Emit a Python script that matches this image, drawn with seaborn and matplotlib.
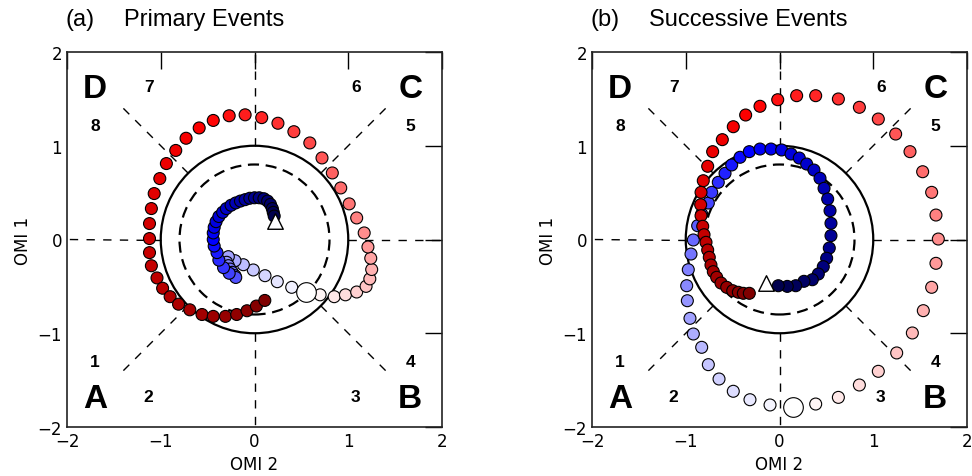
import numpy as np
import pandas as pd
import seaborn as sns
import matplotlib.pyplot as plt
from matplotlib.patches import Circle

# ---------------- data ----------------
# Panel (a) Primary Events
start_a = (0.546, -0.557)
end_a = (0.219, 0.197)
blue_ax = [0.397, 0.243, 0.112, -0.013, -0.119, -0.208, -0.279,
           -0.297, -0.279, -0.261, -0.237, -0.208, -0.20,
           -0.27, -0.33, -0.38,
           -0.40, -0.43, -0.44, -0.44, -0.43, -0.41, -0.38, -0.34, -0.30, -0.25,
           -0.20, -0.15, -0.10, -0.05, 0.00, 0.05, 0.10, 0.14, 0.17, 0.19, 0.20, 0.21]
blue_ay = [-0.510, -0.450, -0.386, -0.325, -0.269, -0.226, -0.183,
           -0.243, -0.279, -0.315, -0.350, -0.386, -0.405,
           -0.36, -0.30, -0.22,
           -0.14, -0.07, 0.00, 0.07, 0.13, 0.19, 0.245, 0.29, 0.33, 0.365,
           0.39, 0.41, 0.425, 0.44, 0.445, 0.445, 0.435, 0.41, 0.375, 0.33, 0.29, 0.25]
red_ax = [0.70, 0.85, 0.97, 1.09, 1.19, 1.23, 1.25, 1.24, 1.21, 1.17, 1.09, 1.01,
          0.92, 0.83, 0.72, 0.59, 0.42, 0.25, 0.077, -0.10, -0.27, -0.44, -0.59,
          -0.73, -0.84, -0.94, -1.01, -1.07, -1.10, -1.12, -1.12, -1.12, -1.10,
          -1.04, -0.98, -0.90, -0.81, -0.69, -0.56, -0.44, -0.31, -0.19, -0.08,
          0.02, 0.11]
red_ay = [-0.59, -0.61, -0.59, -0.56, -0.50, -0.42, -0.32, -0.20, -0.08, 0.07, 0.23, 0.38,
          0.55, 0.71, 0.87, 1.03, 1.15, 1.24, 1.30, 1.33, 1.32, 1.27, 1.19,
          1.08, 0.95, 0.81, 0.65, 0.49, 0.33, 0.17, 0.01, -0.14, -0.28,
          -0.41, -0.52, -0.61, -0.69, -0.75, -0.80, -0.82, -0.82, -0.80, -0.76,
          -0.71, -0.65]

# Panel (b) Successive Events
start_b = (0.147, -1.79)
end_b = (-0.144, -0.464)
blue_bx = [-0.101, -0.315, -0.493, -0.645, -0.759, -0.830, -0.919, -0.955, -0.983,
           -0.990, -0.973, -0.944, -0.919, -0.873, -0.830, -0.759, -0.723, -0.653,
           -0.581, -0.510, -0.421, -0.322, -0.208, -0.091, 0.023, 0.123, 0.211,
           0.290, 0.368, 0.432, 0.475, 0.514, 0.539, 0.549, 0.549, 0.531, 0.503,
           0.467, 0.414, 0.350, 0.261, 0.173, 0.083, -0.013]
blue_by = [-1.765, -1.709, -1.619, -1.488, -1.335, -1.150, -1.008, -0.841, -0.653,
           -0.493, -0.322, -0.155, -0.005, 0.147, 0.272, 0.389, 0.503, 0.610,
           0.706, 0.795, 0.877, 0.937, 0.965, 0.965, 0.955, 0.912, 0.869,
           0.805, 0.741, 0.653, 0.546, 0.432, 0.307, 0.173, 0.041, -0.091, -0.200,
           -0.290, -0.368, -0.429, -0.446, -0.493, -0.500, -0.493]
red_bx = [0.386, 0.628, 0.852, 1.054, 1.250, 1.417, 1.534, 1.623, 1.669, 1.694,
          1.669, 1.623, 1.527, 1.392, 1.239, 1.054, 0.852, 0.628, 0.386, 0.183,
          -0.019, -0.208, -0.361, -0.493, -0.610, -0.713, -0.766, -0.813, -0.837,
          -0.841, -0.837, -0.819, -0.805, -0.784, -0.766, -0.749, -0.731, -0.706,
          -0.670, -0.624, -0.563, -0.499, -0.439, -0.386, -0.322]
red_by = [-1.755, -1.684, -1.552, -1.406, -1.210, -0.997, -0.759, -0.510, -0.254, 0.005,
          0.261, 0.503, 0.723, 0.937, 1.125, 1.285, 1.410, 1.499, 1.534, 1.534,
          1.491, 1.421, 1.328, 1.203, 1.065, 0.937, 0.781, 0.627, 0.503,
          0.371, 0.254, 0.141, 0.051, -0.030, -0.112, -0.190, -0.272, -0.343,
          -0.403, -0.464, -0.510, -0.546, -0.563, -0.574, -0.574]

panel_titles = [("(a)", "Primary Events"), ("(b)", "Successive Events")]
phase_labels = ["1", "2", "3", "4", "5", "6", "7", "8"]
phase_pos = [(-1.70, -1.30), (-1.13, -1.68), (1.08, -1.68), (1.66, -1.30),
             (1.66, 1.22), (1.08, 1.63), (-1.13, 1.63), (-1.70, 1.22)]
corner_labels = ["A", "B", "C", "D"]
corner_pos = [(-1.70, -1.70), (1.66, -1.70), (1.66, 1.61), (-1.70, 1.61)]
ticks = [-2, -1, 0, 1, 2]

# ---------------- plot ----------------
sns.set_style("white")
plt.rcParams['font.family'] = ['DejaVu Sans']
plt.rcParams['text.color'] = 'black'
plt.rcParams['axes.labelcolor'] = 'black'
plt.rcParams['xtick.color'] = 'black'
plt.rcParams['ytick.color'] = 'black'

fig = plt.figure(figsize=(9.72, 4.77), dpi=100)
ax_a = fig.add_axes([67 / 972, 49 / 477, 375 / 972, 375 / 477])
ax_b = fig.add_axes([592 / 972, 49 / 477, 375 / 972, 375 / 477])

panels = [
    (ax_a, blue_ax, blue_ay, red_ax, red_ay, start_a, end_a),
    (ax_b, blue_bx, blue_by, red_bx, red_by, start_b, end_b),
]

for k, (ax, bx, by, rx, ry, st, en) in enumerate(panels):
    nb, nr = len(bx), len(rx)
    df = pd.DataFrame({
        "x": list(bx) + list(rx),
        "y": list(by) + list(ry),
        "v": [-(i + 1) / nb for i in range(nb)] + [(i + 1) / nr for i in range(nr)],
    })
    # reference circles
    ax.add_patch(Circle((0, 0), 1.0, fill=False, lw=1.6, ec="black", zorder=1))
    ax.add_patch(Circle((0, 0), 0.8, fill=False, lw=1.6, ec="black",
                        ls=(0, (5, 3)), zorder=1))
    # phase division lines
    for ang in np.arange(8) * np.pi / 4:
        c, s = np.cos(ang), np.sin(ang)
        ax.plot([c, 2 * c], [s, 2 * s], color="black", lw=1.0,
                ls=(0, (6, 6)), zorder=1.5)
    sns.scatterplot(data=df, x="x", y="y", hue="v", palette="seismic",
                    hue_norm=(-1, 1), s=74, edgecolor="black", linewidth=0.8,
                    legend=False, ax=ax, zorder=3)
    sns.scatterplot(x=[st[0]], y=[st[1]], color="white", s=200,
                    edgecolor="black", linewidth=0.8, ax=ax, zorder=4)
    sns.scatterplot(x=[en[0]], y=[en[1]], color="white", marker="^", s=125,
                    edgecolor="black", linewidth=1.0, ax=ax, zorder=4)

    for lab, (px, py) in zip(phase_labels, phase_pos):
        ax.text(px, py, lab, ha="center", va="center", fontsize=12.5,
                fontweight="bold", family="Liberation Sans", color="black", zorder=6)
    for lab, (px, py) in zip(corner_labels, corner_pos):
        ax.text(px, py, lab, ha="center", va="center", fontsize=24,
                fontweight="bold", family="Liberation Sans", color="black", zorder=6)

    ax.set_xlim(-2, 2)
    ax.set_ylim(-2, 2)
    ax.set_xticks(ticks)
    ax.set_yticks(ticks)
    ax.tick_params(direction="in", length=12, width=1.0, top=True, right=True,
                   labelsize=12, colors="black")
    for sp in ax.spines.values():
        sp.set_color("#222222")
        sp.set_linewidth(1.2)
    ax.set_xlabel("OMI 2", fontsize=12, labelpad=4)
    ax.set_ylabel("OMI 1", fontsize=12, labelpad=4)

    left = 67 if k == 0 else 592
    fig.text((left - 2) / 972, 1 - 20 / 477, panel_titles[k][0], fontsize=17,
             family="Liberation Sans", ha="left", va="center")
    fig.text((left + 57) / 972, 1 - 20 / 477, panel_titles[k][1], fontsize=17,
             family="Liberation Sans", ha="left", va="center")

fig.savefig("out.png", dpi=100)
